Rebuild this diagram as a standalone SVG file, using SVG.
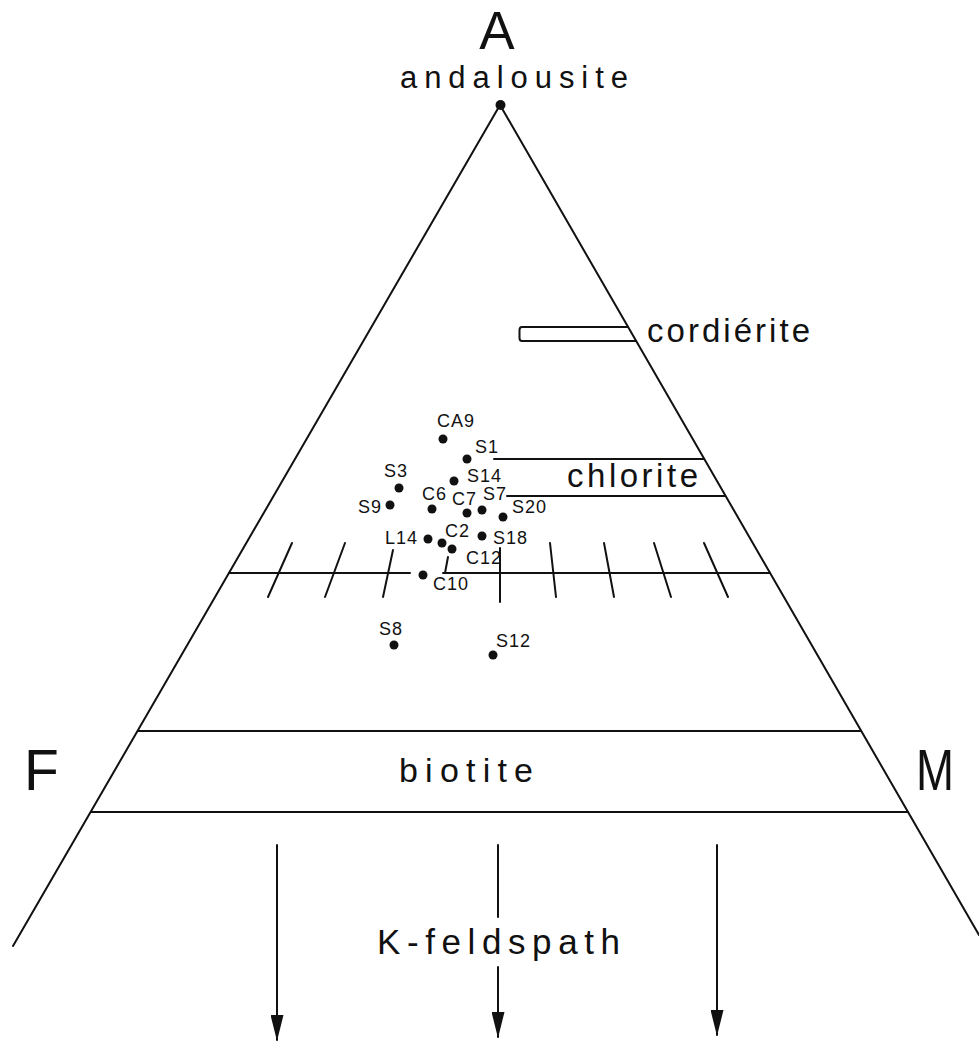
<svg xmlns="http://www.w3.org/2000/svg" width="979" height="1041" viewBox="0 0 979 1041">
<style>
  .ln{stroke:#111;stroke-width:2;fill:none;stroke-linecap:round}
  .big{font-family:"Liberation Sans",Arial,sans-serif;fill:#111}
  .lbl{font-family:"Liberation Sans",Arial,sans-serif;font-size:18px;fill:#111;letter-spacing:1px}
  .pt{fill:#111}
</style>
<defs>
  <marker id="ah" markerUnits="userSpaceOnUse" markerWidth="26" markerHeight="13" viewBox="0 0 26 13" refX="25" refY="6.5" orient="auto">
    <path d="M0,0 L26,6.5 L0,13 Z" fill="#111"/>
  </marker>
</defs>
<rect width="979" height="1041" fill="#fff"/>

<g id="triangle">
  <path class="ln" d="M13,946 L500,105 L979,935"/>
  <circle class="pt" cx="500.5" cy="105" r="5"/>
</g>

<g id="fields">
  <path id="cordierite-field" class="ln" d="M628,327 L522,327 Q519.5,327 519.5,330 L519.5,338 Q519.5,341 522,341 L636,341"/>
  <line id="chlorite-top" class="ln" x1="494" y1="459" x2="704" y2="459"/>
  <line id="chlorite-bottom" class="ln" x1="507" y1="496" x2="725" y2="496"/>
  <g id="tick-line">
    <line class="ln" x1="229" y1="573" x2="410" y2="573"/>
    <line class="ln" x1="443" y1="573" x2="770" y2="573"/>
    <line class="ln" x1="268" y1="597" x2="292" y2="543"/>
    <line class="ln" x1="325" y1="597" x2="345" y2="543"/>
    <line class="ln" x1="383" y1="597" x2="393" y2="550"/>
    <line class="ln" x1="445" y1="573" x2="448" y2="557"/>
    <line class="ln" x1="500" y1="548" x2="500" y2="602"/>
    <line class="ln" x1="550" y1="543" x2="556" y2="597"/>
    <line class="ln" x1="604" y1="543" x2="614" y2="597"/>
    <line class="ln" x1="654" y1="543" x2="671" y2="597"/>
    <line class="ln" x1="704" y1="543" x2="728" y2="597"/>
  </g>
  <line id="biotite-top" class="ln" x1="138" y1="731" x2="861" y2="731"/>
  <line id="biotite-bottom" class="ln" x1="91" y1="812" x2="908" y2="812"/>
</g>

<g id="titles">
  <text id="label-A" class="big" x="497" y="49" font-size="53" text-anchor="middle">A</text>
  <text id="label-andalousite" class="big" x="400" y="88" font-size="31" textLength="228" lengthAdjust="spacing">andalousite</text>
  <text id="label-cordierite" class="big" x="647" y="342" font-size="33" textLength="163" lengthAdjust="spacing">cordiérite</text>
  <text id="label-chlorite" class="big" x="567" y="487" font-size="33" textLength="131" lengthAdjust="spacing">chlorite</text>
  <text id="label-biotite" class="big" x="399" y="782" font-size="34" textLength="134" lengthAdjust="spacing">biotite</text>
  <text id="label-F" class="big" x="24" y="790" font-size="57">F</text>
  <text id="label-M" class="big" x="916" y="790" font-size="58" textLength="38" lengthAdjust="spacingAndGlyphs">M</text>
  <text id="label-kfeldspath" class="big" x="377" y="954" font-size="35" textLength="243" lengthAdjust="spacing">K-feldspath</text>
</g>

<g id="samples">
  <g id="CA9"><circle class="pt" cx="443" cy="439" r="4.5"/><text class="lbl" x="437" y="427">CA9</text></g>
  <g id="S1"><circle class="pt" cx="467" cy="459" r="4.5"/><text class="lbl" x="475" y="453">S1</text></g>
  <g id="S14"><circle class="pt" cx="454" cy="481" r="4.5"/><text class="lbl" x="467" y="482">S14</text></g>
  <g id="S3"><circle class="pt" cx="399" cy="488" r="4.5"/><text class="lbl" x="384" y="477">S3</text></g>
  <g id="S9"><circle class="pt" cx="390" cy="505" r="4.5"/><text class="lbl" x="358" y="513">S9</text></g>
  <g id="C6"><circle class="pt" cx="432" cy="509" r="4.5"/><text class="lbl" x="422" y="500">C6</text></g>
  <g id="C7"><circle class="pt" cx="467" cy="513" r="4.5"/><text class="lbl" x="452" y="505">C7</text></g>
  <g id="S7"><circle class="pt" cx="482" cy="510" r="4.5"/><text class="lbl" x="483" y="500">S7</text></g>
  <g id="S20"><circle class="pt" cx="503" cy="517" r="4.5"/><text class="lbl" x="512" y="513">S20</text></g>
  <g id="L14"><circle class="pt" cx="428" cy="539" r="4.5"/><text class="lbl" x="385" y="544">L14</text></g>
  <g id="C2"><circle class="pt" cx="442" cy="543" r="4.5"/><text class="lbl" x="445" y="537">C2</text></g>
  <g id="C12"><circle class="pt" cx="452" cy="549" r="4.5"/><text class="lbl" x="466" y="564">C12</text></g>
  <g id="S18"><circle class="pt" cx="482" cy="536" r="4.5"/><text class="lbl" x="493" y="544">S18</text></g>
  <g id="C10"><circle class="pt" cx="423" cy="575" r="4.5"/><text class="lbl" x="433" y="590">C10</text></g>
  <g id="S8"><circle class="pt" cx="394" cy="645" r="4.5"/><text class="lbl" x="379" y="635">S8</text></g>
  <g id="S12"><circle class="pt" cx="493" cy="655" r="4.5"/><text class="lbl" x="496" y="647">S12</text></g>
</g>

<g id="connectors">
  <line class="ln" x1="277" y1="845" x2="277" y2="1040" marker-end="url(#ah)"/>
  <line class="ln" x1="498" y1="845" x2="498" y2="917"/>
  <line class="ln" x1="498" y1="967" x2="498" y2="1037" marker-end="url(#ah)"/>
  <line class="ln" x1="717" y1="845" x2="717" y2="1035" marker-end="url(#ah)"/>
</g>
</svg>
